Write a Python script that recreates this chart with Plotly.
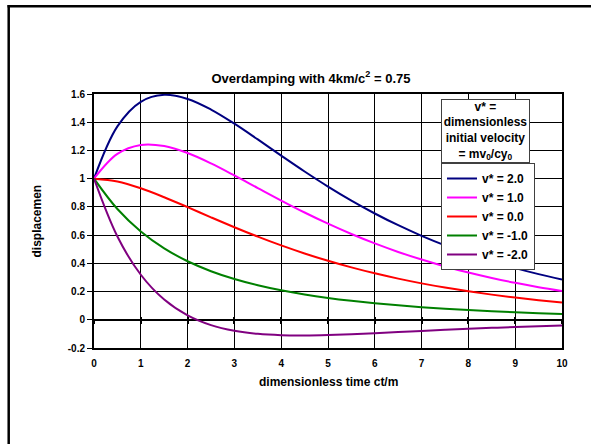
import plotly.graph_objects as go

# dimensionless time ct/m
t = [0, 0.5, 1, 1.5, 2, 2.5, 3, 3.5, 4, 4.5, 5, 5.5, 6, 6.5, 7, 7.5, 8, 8.5, 9, 9.5, 10]

# displacement for each dimensionless initial velocity v*
y_v_p2 = [1.0, 1.3705, 1.5449, 1.5939, 1.5650, 1.4900, 1.3898, 1.2779, 1.1631, 1.0507, 0.9440,
          0.8445, 0.7532, 0.6701, 0.5951, 0.5277, 0.4675, 0.4138, 0.3660, 0.3235, 0.2859]
y_v_p1 = [1.0, 1.1753, 1.2385, 1.2312, 1.1816, 1.1081, 1.0228, 0.9335, 0.8450, 0.7603, 0.6810,
          0.6079, 0.5412, 0.4808, 0.4266, 0.3780, 0.3346, 0.2960, 0.2617, 0.2313, 0.2044]
y_v_0 = [1.0, 0.9801, 0.9320, 0.8686, 0.7982, 0.7262, 0.6559, 0.5891, 0.5269, 0.4699, 0.4180,
         0.3712, 0.3291, 0.2916, 0.2580, 0.2282, 0.2018, 0.1783, 0.1575, 0.1391, 0.1229]
y_v_m1 = [1.0, 0.7849, 0.6256, 0.5060, 0.4148, 0.3443, 0.2889, 0.2447, 0.2088, 0.1794, 0.1550,
          0.1345, 0.1171, 0.1023, 0.0895, 0.0785, 0.0689, 0.0606, 0.0533, 0.0469, 0.0413]
y_v_m2 = [1.0, 0.5897, 0.3192, 0.1433, 0.0314, -0.0376, -0.0781, -0.0998, -0.1093, -0.1110, -0.1080,
          -0.1022, -0.0949, -0.0870, -0.0790, -0.0713, -0.0639, -0.0572, -0.0509, -0.0453, -0.0402]

series_names = ["v* = 2.0", "v* = 1.0", "v* = 0.0", "v* = -1.0", "v* = -2.0"]
series_values = [y_v_p2, y_v_p1, y_v_0, y_v_m1, y_v_m2]
series_colors = ["#000080", "#FF00FF", "#FF0000", "#008000", "#800080"]
series_xaxes = ["x", "x", "x", "x2", "x3"]

x_ticks = [0, 1, 2, 3, 4, 5, 6, 7, 8, 9, 10]
y_tickvals = [-0.2, 0, 0.2, 0.4, 0.6, 0.8, 1.0, 1.2, 1.4, 1.6]
y_ticktext = ["-0.2", "0", "0.2", "0.4", "0.6", "0.8", "1", "1.2", "1.4", "1.6"]

FONT = "Liberation Sans, Arial, sans-serif"

fig = go.Figure()
for name, vals, col, xa in zip(series_names, series_values, series_colors, series_xaxes):
    fig.add_trace(go.Scatter(x=t, y=vals, name=name, mode="lines", xaxis=xa, yaxis="y",
                             line=dict(color=col, width=2, shape="spline", smoothing=1)))

W, H = 591, 444
L, R, T, B = 94, 29, 94, 96
pw, ph = W - L - R, H - T - B
xmin, xmax, ymin, ymax = 0, 10, -0.2, 1.6


def px_x(p):
    return (p - L) / pw


def px_y(p):
    return (H - B - p) / ph


zero_pos = (0 - ymin) / (ymax - ymin)

fig.update_layout(
    width=W, height=H, autosize=False,
    margin=dict(l=L, r=R, t=T, b=B, pad=0),
    paper_bgcolor="white", plot_bgcolor="white",
    font=dict(family=FONT, color="black", size=12, weight="bold"),
    title=dict(text="Overdamping with 4km/c<sup>2</sup> = 0.75",
               font=dict(family=FONT, size=13, color="black", weight="bold"),
               x=px_x(311), xref="paper", xanchor="center",
               y=1 - 78 / H, yref="container", yanchor="middle"),
    xaxis=dict(range=[xmin, xmax], tickvals=x_ticks, showgrid=True, gridcolor="black", gridwidth=1,
               showline=True, linecolor="black", linewidth=2, mirror=True, zeroline=False,
               ticks="", ticklabelstandoff=5,
               tickfont=dict(family=FONT, size=10, color="black", weight="bold")),
    xaxis2=dict(range=[xmin, xmax], overlaying="x", anchor="free", position=zero_pos,
                tickvals=x_ticks, showticklabels=False, showgrid=False, zeroline=False,
                showline=False, ticks="outside", ticklen=3, tickwidth=2, tickcolor="black"),
    xaxis3=dict(range=[xmin, xmax], overlaying="x", anchor="free", position=zero_pos,
                tickvals=x_ticks, showticklabels=False, showgrid=False, zeroline=False,
                showline=False, ticks="inside", ticklen=3, tickwidth=2, tickcolor="black"),
    yaxis=dict(range=[ymin, ymax], tickvals=y_tickvals, ticktext=y_ticktext,
               showgrid=True, gridcolor="black", gridwidth=1,
               showline=True, linecolor="black", linewidth=2, mirror=True,
               zeroline=True, zerolinecolor="black", zerolinewidth=2,
               ticks="outside", ticklen=5, tickwidth=1, tickcolor="black",
               tickfont=dict(family=FONT, size=10, color="black", weight="bold")),
    legend=dict(x=px_x(535), xanchor="right", y=px_y(163), yanchor="top",
                bgcolor="white", bordercolor="#404040", borderwidth=1,
                font=dict(family=FONT, size=12, color="black", weight="bold"),
                tracegroupgap=0),
    showlegend=True,
)

# axis titles
fig.add_annotation(text="dimensionless time ct/m", xref="paper", yref="paper",
                   x=0.5, y=px_y(382), xanchor="center", yanchor="middle", showarrow=False,
                   font=dict(family=FONT, size=12, color="black", weight="bold"))
fig.add_annotation(text="displacemen", xref="paper", yref="paper",
                   x=px_x(36.5), y=0.5, xanchor="center", yanchor="middle", showarrow=False,
                   textangle=-90,
                   font=dict(family=FONT, size=12, color="black", weight="bold"))

# legend title box
fig.add_annotation(text="v* =<br>dimensionless<br>initial velocity<br>= mv<sub>0</sub>/cy<sub>0</sub>",
                   xref="paper", yref="paper", x=px_x(485.5), y=px_y(99),
                   xanchor="center", yanchor="top", showarrow=False, align="center",
                   width=85, height=60, borderpad=1,
                   bgcolor="white", bordercolor="#404040", borderwidth=1,
                   font=dict(family=FONT, size=12, color="black", weight="bold"))

# outer chart-area frame: only its left and top edges fall inside the window
fig.add_shape(type="line", xref="paper", yref="paper",
              x0=px_x(7.5), y0=px_y(6.2), x1=px_x(W), y1=px_y(6.2),
              line=dict(color="black", width=2.5), layer="above")
fig.add_shape(type="line", xref="paper", yref="paper",
              x0=px_x(8.7), y0=px_y(5), x1=px_x(8.7), y1=px_y(H),
              line=dict(color="black", width=2.5), layer="above")

page_css = ("html,body{margin:0;padding:0;overflow:hidden;background:white;}"
            "::-webkit-scrollbar{display:none;width:0;height:0;}")
fig.write_html("out.html", config={"displayModeBar": False},
               post_script=("var s=document.createElement('style');"
                            "s.textContent='" + page_css + "';"
                            "document.head.appendChild(s);"))
